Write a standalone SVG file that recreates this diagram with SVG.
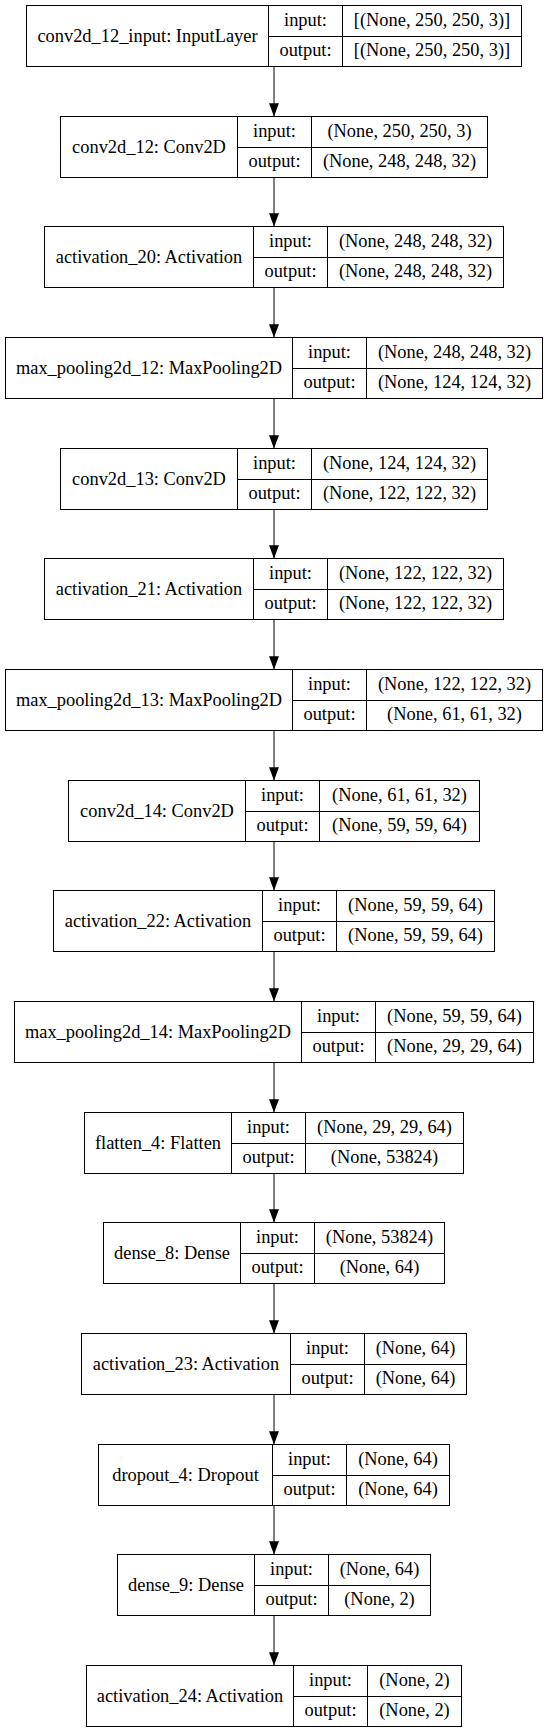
<svg xmlns="http://www.w3.org/2000/svg" width="548" height="1733" viewBox="0 0 548 1733" font-family="'Liberation Serif', 'Times New Roman', 'DejaVu Serif', serif">
<style>
.b{fill:#fff;stroke:#000;stroke-width:1}
.l{stroke:#000;stroke-width:1;fill:none}
.t{font-family:'Liberation Serif','Times New Roman','DejaVu Serif',serif;font-size:18.4px;text-anchor:middle;fill:#000}
.e{stroke:#000;stroke-width:1;fill:none;marker-end:url(#ah)}
</style>
<defs>
<marker id="ah" markerUnits="userSpaceOnUse" markerWidth="13.3" markerHeight="10" viewBox="0 0 13.3 10" refX="13.3" refY="5" orient="auto"><path d="M0,0 L13.3,5 L0,10 z" fill="#000"/></marker>
</defs>
<rect width="548" height="1733" fill="#fff"/>
<g id="connectors">
<line class="e" x1="274" y1="66.5" x2="274" y2="116.5"/>
<line class="e" x1="274" y1="177.5" x2="274" y2="226.5"/>
<line class="e" x1="274" y1="287.5" x2="274" y2="337.5"/>
<line class="e" x1="274" y1="398.5" x2="274" y2="448.5"/>
<line class="e" x1="274" y1="509.5" x2="274" y2="558.5"/>
<line class="e" x1="274" y1="619.5" x2="274" y2="669.5"/>
<line class="e" x1="274" y1="730.5" x2="274" y2="780.5"/>
<line class="e" x1="274" y1="841.5" x2="274" y2="890.5"/>
<line class="e" x1="274" y1="951.5" x2="274" y2="1001.5"/>
<line class="e" x1="274" y1="1062.5" x2="274" y2="1112.5"/>
<line class="e" x1="274" y1="1173.5" x2="274" y2="1222.5"/>
<line class="e" x1="274" y1="1283.5" x2="274" y2="1333.5"/>
<line class="e" x1="274" y1="1394.5" x2="274" y2="1444.5"/>
<line class="e" x1="274" y1="1505.5" x2="274" y2="1554.5"/>
<line class="e" x1="274" y1="1615.5" x2="274" y2="1665.5"/>
</g>
<g id="conv2d_12_input" class="t">
<rect class="b" x="26.5" y="5.5" width="495" height="61"/>
<path class="l" d="M268.5,5.5V66.5M342.5,5.5V66.5M268.5,36.5H521.5"/>
<text x="147.5" y="41.5">conv2d_12_input: InputLayer</text>
<text x="305.5" y="26">input:</text><text x="305.5" y="56">output:</text>
<text x="432" y="26">[(None, 250, 250, 3)]</text><text x="432" y="56">[(None, 250, 250, 3)]</text>
</g>
<g id="conv2d_12" class="t">
<rect class="b" x="60.5" y="116.5" width="427" height="61"/>
<path class="l" d="M237.5,116.5V177.5M311.5,116.5V177.5M237.5,147.5H487.5"/>
<text x="149" y="152.5">conv2d_12: Conv2D</text>
<text x="274.5" y="137">input:</text><text x="274.5" y="167">output:</text>
<text x="399.5" y="137">(None, 250, 250, 3)</text><text x="399.5" y="167">(None, 248, 248, 32)</text>
</g>
<g id="activation_20" class="t">
<rect class="b" x="44.5" y="226.5" width="459" height="61"/>
<path class="l" d="M253.5,226.5V287.5M327.5,226.5V287.5M253.5,257.5H503.5"/>
<text x="149" y="262.5">activation_20: Activation</text>
<text x="290.5" y="247">input:</text><text x="290.5" y="277">output:</text>
<text x="415.5" y="247">(None, 248, 248, 32)</text><text x="415.5" y="277">(None, 248, 248, 32)</text>
</g>
<g id="max_pooling2d_12" class="t">
<rect class="b" x="5.5" y="337.5" width="537" height="61"/>
<path class="l" d="M292.5,337.5V398.5M366.5,337.5V398.5M292.5,368.5H542.5"/>
<text x="149" y="373.5">max_pooling2d_12: MaxPooling2D</text>
<text x="329.5" y="358">input:</text><text x="329.5" y="388">output:</text>
<text x="454.5" y="358">(None, 248, 248, 32)</text><text x="454.5" y="388">(None, 124, 124, 32)</text>
</g>
<g id="conv2d_13" class="t">
<rect class="b" x="60.5" y="448.5" width="427" height="61"/>
<path class="l" d="M237.5,448.5V509.5M311.5,448.5V509.5M237.5,479.5H487.5"/>
<text x="149" y="484.5">conv2d_13: Conv2D</text>
<text x="274.5" y="469">input:</text><text x="274.5" y="499">output:</text>
<text x="399.5" y="469">(None, 124, 124, 32)</text><text x="399.5" y="499">(None, 122, 122, 32)</text>
</g>
<g id="activation_21" class="t">
<rect class="b" x="44.5" y="558.5" width="459" height="61"/>
<path class="l" d="M253.5,558.5V619.5M327.5,558.5V619.5M253.5,589.5H503.5"/>
<text x="149" y="594.5">activation_21: Activation</text>
<text x="290.5" y="579">input:</text><text x="290.5" y="609">output:</text>
<text x="415.5" y="579">(None, 122, 122, 32)</text><text x="415.5" y="609">(None, 122, 122, 32)</text>
</g>
<g id="max_pooling2d_13" class="t">
<rect class="b" x="5.5" y="669.5" width="537" height="61"/>
<path class="l" d="M292.5,669.5V730.5M366.5,669.5V730.5M292.5,700.5H542.5"/>
<text x="149" y="705.5">max_pooling2d_13: MaxPooling2D</text>
<text x="329.5" y="690">input:</text><text x="329.5" y="720">output:</text>
<text x="454.5" y="690">(None, 122, 122, 32)</text><text x="454.5" y="720">(None, 61, 61, 32)</text>
</g>
<g id="conv2d_14" class="t">
<rect class="b" x="68.5" y="780.5" width="411" height="61"/>
<path class="l" d="M245.5,780.5V841.5M319.5,780.5V841.5M245.5,811.5H479.5"/>
<text x="157" y="816.5">conv2d_14: Conv2D</text>
<text x="282.5" y="801">input:</text><text x="282.5" y="831">output:</text>
<text x="399.5" y="801">(None, 61, 61, 32)</text><text x="399.5" y="831">(None, 59, 59, 64)</text>
</g>
<g id="activation_22" class="t">
<rect class="b" x="53.5" y="890.5" width="441" height="61"/>
<path class="l" d="M262.5,890.5V951.5M336.5,890.5V951.5M262.5,921.5H494.5"/>
<text x="158" y="926.5">activation_22: Activation</text>
<text x="299.5" y="911">input:</text><text x="299.5" y="941">output:</text>
<text x="415.5" y="911">(None, 59, 59, 64)</text><text x="415.5" y="941">(None, 59, 59, 64)</text>
</g>
<g id="max_pooling2d_14" class="t">
<rect class="b" x="14.5" y="1001.5" width="519" height="61"/>
<path class="l" d="M301.5,1001.5V1062.5M375.5,1001.5V1062.5M301.5,1032.5H533.5"/>
<text x="158" y="1037.5">max_pooling2d_14: MaxPooling2D</text>
<text x="338.5" y="1022">input:</text><text x="338.5" y="1052">output:</text>
<text x="454.5" y="1022">(None, 59, 59, 64)</text><text x="454.5" y="1052">(None, 29, 29, 64)</text>
</g>
<g id="flatten_4" class="t">
<rect class="b" x="84.5" y="1112.5" width="379" height="61"/>
<path class="l" d="M231.5,1112.5V1173.5M305.5,1112.5V1173.5M231.5,1143.5H463.5"/>
<text x="158" y="1148.5">flatten_4: Flatten</text>
<text x="268.5" y="1133">input:</text><text x="268.5" y="1163">output:</text>
<text x="384.5" y="1133">(None, 29, 29, 64)</text><text x="384.5" y="1163">(None, 53824)</text>
</g>
<g id="dense_8" class="t">
<rect class="b" x="103.5" y="1222.5" width="341" height="61"/>
<path class="l" d="M240.5,1222.5V1283.5M314.5,1222.5V1283.5M240.5,1253.5H444.5"/>
<text x="172" y="1258.5">dense_8: Dense</text>
<text x="277.5" y="1243">input:</text><text x="277.5" y="1273">output:</text>
<text x="379.5" y="1243">(None, 53824)</text><text x="379.5" y="1273">(None, 64)</text>
</g>
<g id="activation_23" class="t">
<rect class="b" x="81.5" y="1333.5" width="385" height="61"/>
<path class="l" d="M290.5,1333.5V1394.5M364.5,1333.5V1394.5M290.5,1364.5H466.5"/>
<text x="186" y="1369.5">activation_23: Activation</text>
<text x="327.5" y="1354">input:</text><text x="327.5" y="1384">output:</text>
<text x="415.5" y="1354">(None, 64)</text><text x="415.5" y="1384">(None, 64)</text>
</g>
<g id="dropout_4" class="t">
<rect class="b" x="98.5" y="1444.5" width="351" height="61"/>
<path class="l" d="M272.5,1444.5V1505.5M346.5,1444.5V1505.5M272.5,1475.5H449.5"/>
<text x="185.5" y="1480.5">dropout_4: Dropout</text>
<text x="309.5" y="1465">input:</text><text x="309.5" y="1495">output:</text>
<text x="398" y="1465">(None, 64)</text><text x="398" y="1495">(None, 64)</text>
</g>
<g id="dense_9" class="t">
<rect class="b" x="117.5" y="1554.5" width="313" height="61"/>
<path class="l" d="M254.5,1554.5V1615.5M328.5,1554.5V1615.5M254.5,1585.5H430.5"/>
<text x="186" y="1590.5">dense_9: Dense</text>
<text x="291.5" y="1575">input:</text><text x="291.5" y="1605">output:</text>
<text x="379.5" y="1575">(None, 64)</text><text x="379.5" y="1605">(None, 2)</text>
</g>
<g id="activation_24" class="t">
<rect class="b" x="86.5" y="1665.5" width="375" height="61"/>
<path class="l" d="M293.5,1665.5V1726.5M367.5,1665.5V1726.5M293.5,1696.5H461.5"/>
<text x="190" y="1701.5">activation_24: Activation</text>
<text x="330.5" y="1686">input:</text><text x="330.5" y="1716">output:</text>
<text x="414.5" y="1686">(None, 2)</text><text x="414.5" y="1716">(None, 2)</text>
</g>
</svg>
